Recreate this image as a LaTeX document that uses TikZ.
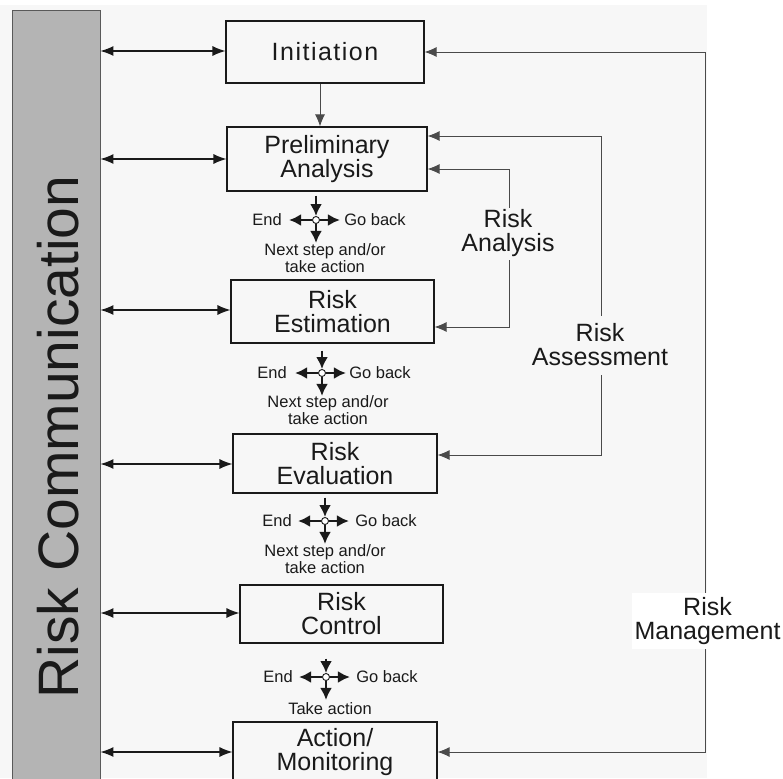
\documentclass[tikz,border=0pt]{standalone}
\usepackage{fontspec}
\setmainfont{Liberation Sans}
\usetikzlibrary{arrows.meta,calc}
\definecolor{pagebg}{HTML}{F7F7F7}
\definecolor{barfill}{HTML}{B4B4B4}
\definecolor{ink}{HTML}{1A1A1A}
\definecolor{thin}{HTML}{4A4A4A}

\begin{document}
\begin{tikzpicture}[x=1pt,y=-1pt,
  stage/.style={draw=ink, line width=1.1pt, fill=pagebg, inner sep=0pt, align=center,
    font=\fontsize{25}{24}\selectfont, text=ink},
  note/.style={font=\fontsize{16.5}{17}\selectfont, text=ink, inner sep=0pt, align=center},
  tag/.style={font=\fontsize{25}{24}\selectfont, text=ink, inner sep=0pt, align=center, fill=pagebg},
  both/.style={draw=ink, line width=1.2pt, {Latex[length=13pt,width=10pt]}-{Latex[length=13pt,width=10pt]}},
  feed/.style={draw=thin, line width=0.9pt, -{Latex[length=12pt,width=10pt]}},
  feedboth/.style={draw=thin, line width=0.9pt, {Latex[length=12pt,width=10pt]}-{Latex[length=12pt,width=10pt]}},
  fork/.style={draw=ink, line width=2.4pt, -{Latex[length=12pt,width=12pt]}},
  hub/.style={circle, draw=ink, fill=white, line width=0.9pt, minimum size=7pt, inner sep=0pt},
]
\useasboundingbox (0,0) rectangle (783,778);
\clip (0,0) rectangle (783,778);
\fill[white] (0,0) rectangle (783,778);
\fill[pagebg] (0,5) rectangle (707,778);

% communication bar on the left
\node[draw=gray!70!black, fill=barfill, minimum width=88pt, minimum height=780pt,
      anchor=north west, inner sep=0pt] (bar) at (12,10) {};
\node[rotate=90, anchor=base, font=\fontsize{57}{60}\selectfont, text=ink, inner sep=0pt]
      (rc) at (78,437) {Risk Communication};

% process stages
\node[stage, minimum width=198pt, minimum height=62pt] (init) at (325,52)
      {\addfontfeatures{LetterSpace=6}Initiation};
\node[stage, minimum width=200pt, minimum height=64pt] (prel) at (327,159) {Preliminary\\Analysis};
\node[stage, minimum width=203pt, minimum height=63pt] (est) at (332.5,311.5) {Risk\\Estimation};
\node[stage, minimum width=204pt, minimum height=59pt] (eval) at (335,463.5) {Risk\\Evaluation};
\node[stage, minimum width=203pt, minimum height=58pt] (ctrl) at (341.5,614) {Risk\\Control};
\node[stage, minimum width=204pt, minimum height=60pt] (act) at (335,752) {Action/\\Monitoring};

% links between the bar and each stage
\coordinate (l1) at (0,51);
\coordinate (l2) at (0,159);
\coordinate (l3) at (0,310);
\coordinate (l4) at (0,464);
\coordinate (l5) at (0,613);
\coordinate (l6) at (0,752);
\draw[both] (bar.east |- l1) -- (init.west |- l1);
\draw[both] (bar.east |- l2) -- (prel.west |- l2);
\draw[both] (bar.east |- l3) -- (est.west |- l3);
\draw[both] (bar.east |- l4) -- (eval.west |- l4);
\draw[both] (bar.east |- l5) -- (ctrl.west |- l5);
\draw[both] (bar.east |- l6) -- (act.west |- l6);

% initiation to preliminary analysis
\coordinate (dn) at (320,0);
\draw[feed] (init.south -| dn) -- (prel.north -| dn);

% feedback loops on the right
\coordinate (mgT) at (705,52);
\coordinate (mgB) at (705,752);
\draw[feedboth] (init.east |- mgT) -- (mgT) -- (mgB) -- (act.east |- mgB);
\coordinate (asT) at (601,136);
\coordinate (asB) at (601,455);
\draw[feedboth] (prel.east |- asT) -- (asT) -- (asB) -- (eval.east |- asB);
\coordinate (raT) at (509,169);
\coordinate (raB) at (509,327);
\draw[feedboth] (prel.east |- raT) -- (raT) -- (raB) -- (est.east |- raB);

\node[tag, minimum height=52pt] (ra) at (508,233.5) {Risk\\Analysis};
\node[tag, minimum height=59pt] (as) at (600,345) {Risk\\Assessment};
\node[tag, fill=white, minimum width=151pt, minimum height=56pt] (rm) at (707.5,621) {Risk\\Management};

% decision points between stages
\node[hub] (h1) at (316,220) {};
\node[hub] (h2) at (322,373) {};
\node[hub] (h3) at (325,521) {};
\node[hub] (h4) at (326,677) {};

\draw[fork] ($(prel.south -| h1)+(0,4)$) -- (h1.north);
\draw[fork] ($(est.south -| h2)+(0,7)$) -- (h2.north);
\draw[fork] ($(eval.south -| h3)+(0,4)$) -- (h3.north);
\draw[fork] ($(ctrl.south -| h4)+(0,15)$) -- (h4.north);

\foreach \h in {h1,h2,h3,h4}{
  \draw[fork] (\h.west) -- ++(-23,0);
  \draw[fork] (\h.east) -- ++(20,0);
  \draw[fork] (\h.south) -- ++(0,19);
}

\node[note] (e1) at (267,220) {End};
\node[note] (g1) at (375,220) {Go back};
\node[note] (n1) at (325,258.5) {Next step and/or\\take action};
\node[note] (e2) at (272,373) {End};
\node[note] (g2) at (380,373) {Go back};
\node[note] (n2) at (328,410.5) {Next step and/or\\take action};
\node[note] (e3) at (277,521) {End};
\node[note] (g3) at (386,521) {Go back};
\node[note] (n3) at (325,559) {Next step and/or\\take action};
\node[note] (e4) at (278,677) {End};
\node[note] (g4) at (387,677) {Go back};
\node[note] (n4) at (330,709) {Take action};
\end{tikzpicture}
\end{document}
